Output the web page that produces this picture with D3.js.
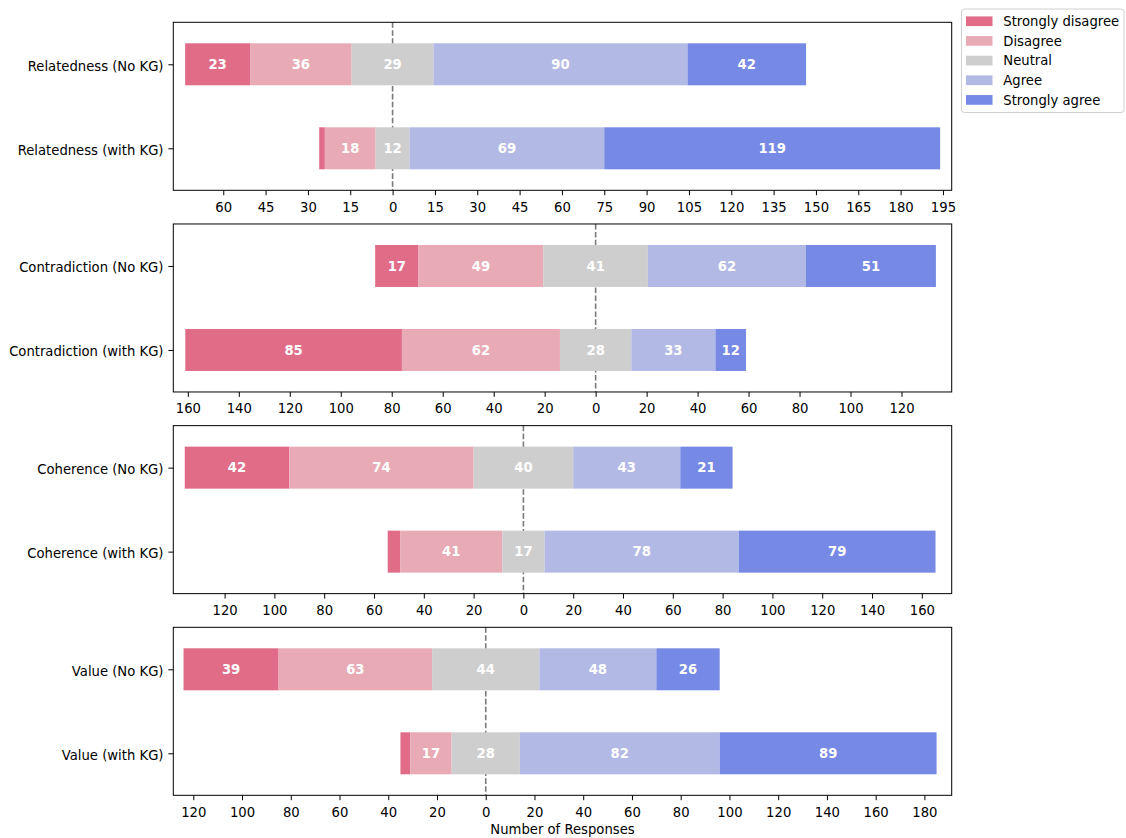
<!DOCTYPE html>
<html>
<head>
<meta charset="utf-8">
<script src="https://cdn.jsdelivr.net/npm/d3@7/dist/d3.min.js"></script>
<style>
  html, body { margin: 0; padding: 0; background: #fff; }
  svg { display: block; font-family: "DejaVu Sans", sans-serif; }
</style>
</head>
<body>
<svg id="chart" width="1126" height="838"></svg>
<script>
// ---------------- data ----------------
const categories = ["Strongly disagree", "Disagree", "Neutral", "Agree", "Strongly agree"];
const colors = ["#e06c88", "#e8abb5", "#cecece", "#b3b9e5", "#7689e4"];

const metrics = ["Relatedness", "Contradiction", "Coherence", "Value"];
const conditions = ["No KG", "with KG"];

const relatednessValues   = [[23, 36, 29, 90, 42], [2, 18, 12, 69, 119]];
const contradictionValues = [[17, 49, 41, 62, 51], [85, 62, 28, 33, 12]];
const coherenceValues     = [[42, 74, 40, 43, 21], [5, 41, 17, 78, 79]];
const valueValues         = [[39, 63, 44, 48, 26], [4, 17, 28, 82, 89]];
const panelValues = [relatednessValues, contradictionValues, coherenceValues, valueValues];

// axis limits and tick values (tick labels shown as absolute values)
const xLimits = [[-77.7, 198.1], [-165.7, 139.7], [-140.6, 172.0], [-128.2, 191.2]];
const xTicks = [
  d3.range(-60, 196, 15),
  d3.range(-160, 121, 20),
  d3.range(-120, 161, 20),
  d3.range(-120, 181, 20)
];
const xAxisTitle = "Number of Responses";

// ---------------- layout ----------------
const svg = d3.select("#chart");
const axLeft = 173.3, axRight = 951.7;
const panelTop0 = 22.3, panelStep = 201.67, panelH = 168;
const FS = 13.2;

panelValues.forEach((rows, p) => {
  const top = panelTop0 + p * panelStep;
  const x = d3.scaleLinear().domain(xLimits[p]).range([axLeft, axRight]);
  const y = d3.scaleLinear().domain([-0.5, 1.5]).range([top, top + panelH]);
  const g = svg.append("g");

  // zero line (behind bars)
  g.append("line")
    .attr("x1", x(0)).attr("x2", x(0))
    .attr("y1", top).attr("y2", top + panelH)
    .attr("stroke", "#7a7a7a").attr("stroke-width", 1.6)
    .attr("stroke-dasharray", "5.55,2.4");

  rows.forEach((vals, r) => {
    const start = -(vals[0] + vals[1] + vals[2] / 2);
    let cum = start;
    const segs = vals.map((v, k) => {
      const s = { v, k, x0: cum, x1: cum + v };
      cum += v;
      return s;
    });
    const rowG = g.append("g");
    rowG.selectAll("rect").data(segs).join("rect")
      .attr("x", d => x(d.x0))
      .attr("width", d => x(d.x1) - x(d.x0))
      .attr("y", y(r - 0.25))
      .attr("height", y(r + 0.25) - y(r - 0.25))
      .attr("fill", d => colors[d.k]);
    rowG.selectAll("text").data(segs.filter(d => d.v >= 10)).join("text")
      .attr("x", d => x((d.x0 + d.x1) / 2))
      .attr("y", y(r))
      .attr("dy", "0.36em")
      .attr("text-anchor", "middle")
      .attr("fill", "#fff")
      .attr("font-weight", "bold")
      .attr("font-size", FS)
      .text(d => d.v);
  });

  // frame
  g.append("rect")
    .attr("x", axLeft).attr("y", top)
    .attr("width", axRight - axLeft).attr("height", panelH)
    .attr("fill", "none").attr("stroke", "#000").attr("stroke-width", 1);

  // x axis
  const xa = g.append("g").attr("transform", `translate(0,${top + panelH})`)
    .call(d3.axisBottom(x).tickValues(xTicks[p]).tickFormat(d => Math.abs(d)).tickSizeOuter(0).tickSize(4.9).tickPadding(7.2));
  xa.select(".domain").remove();
  xa.selectAll("text").attr("font-size", FS).attr("fill", "#000").attr("font-family", "DejaVu Sans");
  xa.selectAll("line").attr("stroke", "#000");

  // y axis
  const ya = g.append("g").attr("transform", `translate(${axLeft},0)`)
    .call(d3.axisLeft(y).tickValues([0, 1]).tickFormat(i => `${metrics[p]} (${conditions[i]})`).tickSizeOuter(0).tickSize(4.9).tickPadding(4.9));
  ya.select(".domain").remove();
  ya.selectAll("text").attr("font-size", FS).attr("fill", "#000").attr("font-family", "DejaVu Sans").attr("dy", "0.45em");
  ya.selectAll("line").attr("stroke", "#000");
});

// x axis title
svg.append("text")
  .attr("x", (axLeft + axRight) / 2)
  .attr("y", 829.5)
  .attr("dy", "0.36em")
  .attr("text-anchor", "middle")
  .attr("font-size", FS)
  .text(xAxisTitle);

// legend
const lg = svg.append("g");
lg.append("rect")
  .attr("x", 961.5).attr("y", 9).attr("width", 162.5).attr("height", 103.5)
  .attr("rx", 3).attr("fill", "#fff").attr("fill-opacity", 0.8)
  .attr("stroke", "#d0d0d0").attr("stroke-width", 1);
categories.forEach((c, i) => {
  const cy = 21.3 + i * 19.67;
  lg.append("rect").attr("x", 966).attr("y", cy - 4.9).attr("width", 26.5).attr("height", 9.7).attr("fill", colors[i]);
  lg.append("text").attr("x", 1003.3).attr("y", cy).attr("dy", "0.36em")
    .attr("font-size", FS).attr("fill", "#000").text(c);
});
</script>
</body>
</html>
